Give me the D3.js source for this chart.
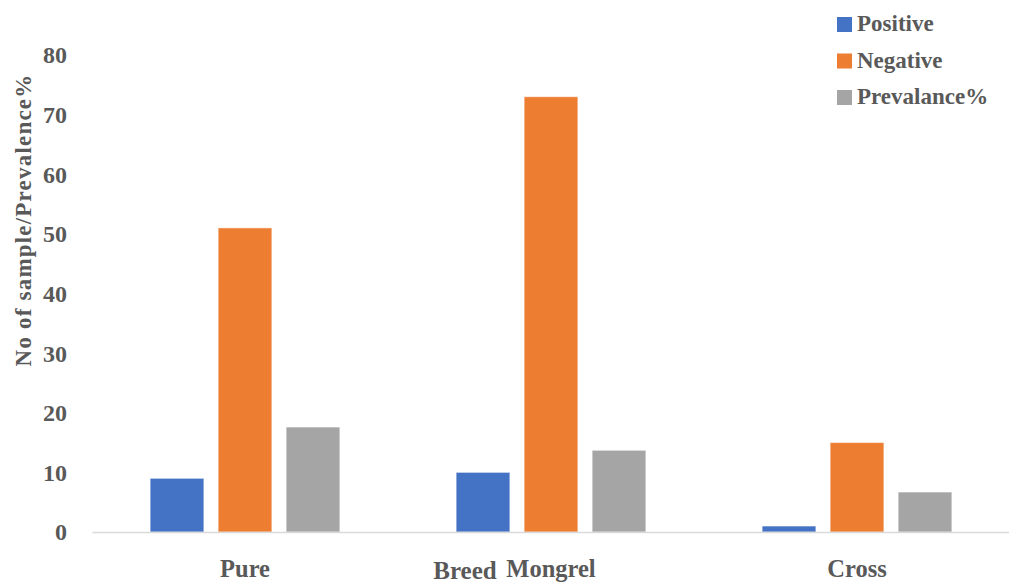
<!DOCTYPE html>
<html><head><meta charset="utf-8">
<script src="https://cdn.jsdelivr.net/npm/d3@7"></script>
<style>
body{margin:0;background:#fff;}
text{font-family:"Liberation Serif","Times New Roman",serif;font-weight:bold;fill:#595959;}
</style></head>
<body><svg id="c" width="1009" height="584"></svg>
<script>
const categories = ["Pure", "Mongrel", "Cross"];
const seriesNames = ["Positive", "Negative", "Prevalance%"];
const positive = [9, 10, 1];
const negative = [51, 73, 15];
const prevalence = [17.6, 13.7, 6.7];
const yTicks = [0, 10, 20, 30, 40, 50, 60, 70, 80];
const colors = ["#4472C4", "#ED7D31", "#A5A5A5"];

const series = [positive, negative, prevalence];
const svg = d3.select("#c");
const x0 = d3.scaleBand().domain(categories).range([92, 1010]).paddingInner(0.38).paddingOuter(0.19);
const x1 = d3.scaleBand().domain(seriesNames).range([0, x0.bandwidth()]).paddingInner(0.21);
const y = d3.scaleLinear().domain([0, 80]).range([532, 55]);

// y tick labels
const yAxis = d3.axisLeft(y).tickValues(yTicks).tickSize(0).tickPadding(0);
const gy = svg.append("g").attr("transform", "translate(67,0)").call(yAxis);
gy.select(".domain").remove();
gy.selectAll("text").style("font-size", "24px").attr("dy", "0.33em").style("font-family", '"Liberation Serif",serif').style("font-weight","bold").attr("fill", "#595959");

// bars
categories.forEach((c, i) => {
  series.forEach((s, j) => {
    svg.append("rect")
      .attr("x", x0(c) + x1(seriesNames[j]))
      .attr("y", y(s[i]))
      .attr("width", x1.bandwidth())
      .attr("height", y(0) - y(s[i]))
      .attr("fill", colors[j])
      .attr("stroke", "#fff").attr("stroke-opacity", 0.5).attr("stroke-width", 1);
  });
});

// x axis
const xAxis = d3.axisBottom(x0).tickSize(0).tickPadding(0);
const gx = svg.append("g").attr("transform", "translate(0,532)").call(xAxis);
gx.select(".domain").attr("stroke", "#d9d9d9").attr("stroke-width", 1.5);
gx.selectAll("text").attr("y", 45).attr("dy", 0).style("font-size", "24.5px").style("font-family", '"Liberation Serif",serif').style("font-weight","bold").attr("fill", "#595959");

// axis titles
svg.append("text").attr("x", 465).attr("y", 579).attr("text-anchor", "middle").style("font-size", "25px").text("Breed");
svg.append("text").attr("transform", "translate(31,220) rotate(-90)").attr("text-anchor", "middle")
  .style("font-size", "23px").style("letter-spacing", "1.2px").text("No of sample/Prevalence%");

// legend
const lg = svg.append("g");
seriesNames.forEach((n, j) => {
  const yy = 24 + j * 36.5;
  lg.append("rect").attr("x", 837).attr("y", yy - 7).attr("width", 15).attr("height", 15).attr("fill", colors[j]);
  lg.append("text").attr("x", 857).attr("y", yy + 7).style("font-size", "23px").text(n);
});
</script></body></html>
